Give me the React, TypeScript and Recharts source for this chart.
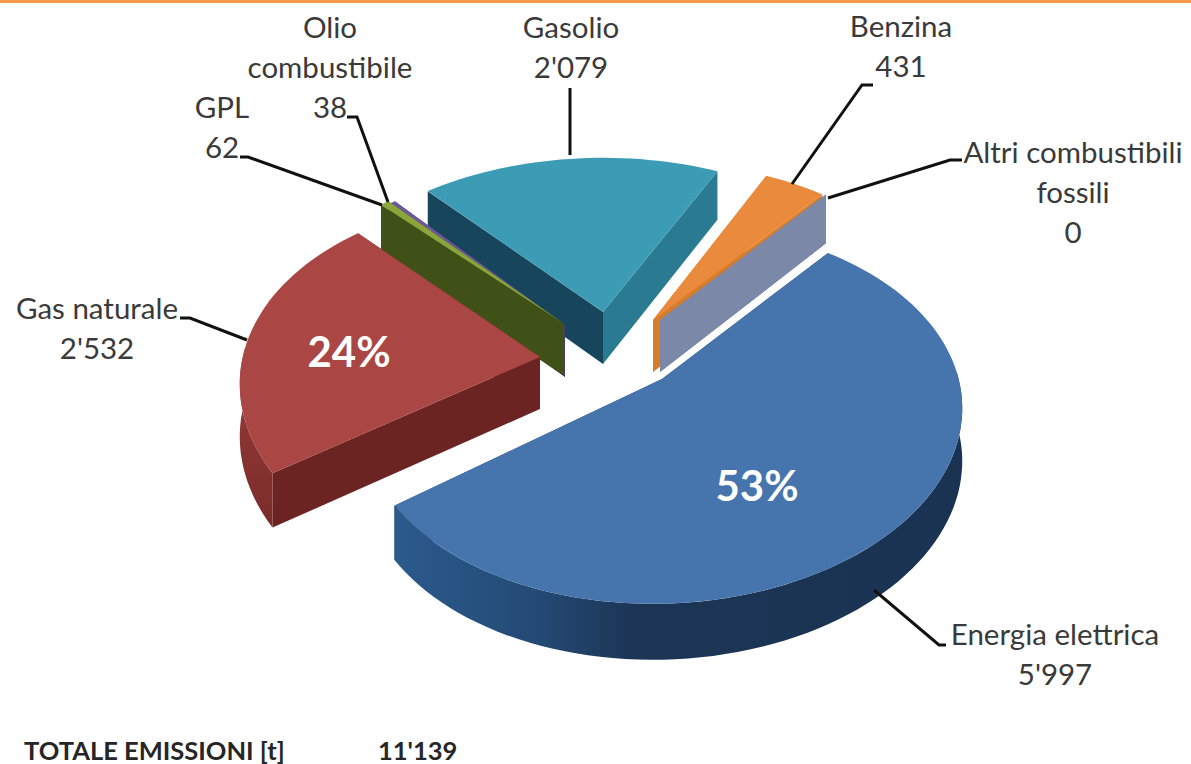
import { Pie, PieChart } from "recharts";

// tonnes of CO2 per energy source, counter-clockwise starting from Benzina
const SOURCES = [
	"Benzina",
	"Gasolio",
	"Olio combustibile",
	"GPL",
	"Gas naturale",
	"Energia elettrica",
	"Altri combustibili fossili"
];
const EMISSIONS = [431, 2079, 38, 62, 2532, 5997, 0];
const SHARE_LABELS = ["", "", "", "", "24%", "53%", ""];
const TOTAL_LABEL = "TOTALE EMISSIONI [t]";
const TOTAL_VALUE = "11'139";

const chartData = SOURCES.map((name, i) => ({ name, value: EMISSIONS[i], share: SHARE_LABELS[i] }));

const WIDTH = 1191;
const HEIGHT = 764;
const CENTER_X = 611;
const CENTER_Y = 355;
const RADIUS = 295;

// 3D projection of the disc
const PERSPECTIVE = 0.186;
const DEPTH = 52;

const FONT = "Lato, Carlito, sans-serif";
const TEXT_COLOR = "#3a3a3a";

type SliceStyle = {
	dx: number;
	dy: number;
	tilt: number;
	skew: number;
	stretch: number;
	top: string;
	arc: string;
	faceLow: string;
	faceHigh: string;
};

// faceLow is the cut face on the smaller recharts angle, faceHigh on the larger one
const SLICE_STYLES: Record<string, SliceStyle> = {
	Benzina: { dx: 42, dy: -35, tilt: 0.635, skew: 0, stretch: 1.02, top: "#e98a3c", arc: "#c9732c", faceLow: "#d97c2a", faceHigh: "#d97c2a" },
	Gasolio: { dx: -8, dy: -43, tilt: 0.62, skew: 0, stretch: 1.03, top: "#3c9cb6", arc: "#2a7b91", faceLow: "#2a7b91", faceHigh: "#17465c" },
	"Olio combustibile": { dx: -46, dy: -30, tilt: 0.635, skew: 0, stretch: 1, top: "#6e56a0", arc: "#4a3a70", faceLow: "#4a3a70", faceHigh: "#4a3a70" },
	GPL: { dx: -48, dy: -32, tilt: 0.635, skew: 0, stretch: 1, top: "#8aa63a", arc: "#3f5117", faceLow: "#3f5117", faceHigh: "#3f5117" },
	"Gas naturale": { dx: -71, dy: 2, tilt: 0.635, skew: 0.03, stretch: 1, top: "#aa4644", arc: "url(#arcRed)", faceLow: "#6b2422", faceHigh: "#6b2422" },
	"Energia elettrica": { dx: 51, dy: 24, tilt: 0.62, skew: -0.02, stretch: 1, top: "#4674ad", arc: "url(#arcBlue)", faceLow: "#1f3d63", faceHigh: "#1f3d63" },
	"Altri combustibili fossili": { dx: 49, dy: -35, tilt: 0.635, skew: 0, stretch: 1, top: "#7b88a8", arc: "#7b88a8", faceLow: "#7b88a8", faceHigh: "#7b88a8" }
};

type LabelLayout = {
	lines: string[];
	x: number;
	y: number;
	leader: string;
};

const LABEL_LAYOUTS: Record<string, LabelLayout> = {
	Benzina: { lines: ["Benzina"], x: 901, y: 37, leader: "M873 85 L862 85 L792 184" },
	Gasolio: { lines: ["Gasolio"], x: 571, y: 38, leader: "M570 88 L570 155" },
	"Olio combustibile": { lines: ["Olio", "combustibile"], x: 330, y: 38, leader: "M347 117 L357 117 L388 202" },
	GPL: { lines: ["GPL"], x: 222, y: 118, leader: "M240 157 L248 157 L382 205" },
	"Gas naturale": { lines: ["Gas naturale"], x: 97, y: 319, leader: "M180 318 L190 318 L247 340" },
	"Energia elettrica": { lines: ["Energia elettrica"], x: 1055, y: 645, leader: "M874 590 L939 645 L946 645" },
	"Altri combustibili fossili": {
		lines: ["Altri combustibili", "fossili"],
		x: 1073,
		y: 163,
		leader: "M962 160 L950 160 L828 198"
	}
};

const SHARE_POSITIONS: Record<string, { x: number; y: number }> = {
	"Gas naturale": { x: 349, y: 367 },
	"Energia elettrica": { x: 757, y: 501 }
};

const LINE_HEIGHT = 40;

function formatTonnes(value: number) {
	return String(value).replace(/\B(?=(\d{3})+$)/g, "'");
}

// recharts angle in degrees (ccw from east) to a point on the tilted disc
function project(apexX: number, apexY: number, angle: number, radius: number, style: SliceStyle) {
	const rad = (angle * Math.PI) / 180;
	const u = Math.cos(rad);
	const v = -Math.sin(rad);
	const scale = 1 / (1 - PERSPECTIVE * v);
	const offsetX = radius * scale * u * style.stretch;
	return {
		x: apexX + offsetX,
		y: apexY + radius * scale * style.tilt * v + style.skew * offsetX,
		v
	};
}

function depthAt(v: number) {
	return DEPTH + 4 * v;
}

function arcPoints(apexX: number, apexY: number, from: number, to: number, radius: number, style: SliceStyle) {
	const steps = Math.max(1, Math.ceil(Math.abs(to - from) / 2));
	const points = [];
	for (let i = 0; i <= steps; i++) {
		points.push(project(apexX, apexY, from + ((to - from) * i) / steps, radius, style));
	}
	return points;
}

function toPath(points: { x: number; y: number }[]) {
	return points.map((p, i) => `${i === 0 ? "M" : "L"}${p.x.toFixed(1)} ${p.y.toFixed(1)}`).join(" ");
}

function Slice3D(props: any) {
	const { cx, cy, startAngle, endAngle, outerRadius, name } = props;
	const style = SLICE_STYLES[name];
	const apexX = cx + style.dx;
	const apexY = cy + style.dy;
	const low = Math.min(startAngle, endAngle);
	const high = Math.max(startAngle, endAngle);

	const face = (angle: number, fill: string) => {
		const tip = project(apexX, apexY, angle, outerRadius, style);
		const d = `M${apexX} ${apexY} L${tip.x} ${tip.y} L${tip.x} ${tip.y + depthAt(tip.v)} L${apexX} ${apexY + DEPTH} Z`;
		return <path d={d} fill={fill} />;
	};

	// the curved wall only shows on the near half of the disc (angles 180..360)
	const wallParts = [];
	for (const [a, b] of [
		[180, 360],
		[540, 720]
	]) {
		const from = Math.max(low, a);
		const to = Math.min(high, b);
		if (to > from) {
			const edge = arcPoints(apexX, apexY, from, to, outerRadius, style);
			const lower = edge.map((p) => ({ x: p.x, y: p.y + depthAt(p.v) })).reverse();
			wallParts.push(<path key={a} d={`${toPath(edge)} ${toPath(lower).replace("M", "L")} Z`} fill={style.arc} />);
		}
	}

	const rim = arcPoints(apexX, apexY, low, high, outerRadius, style);
	const topPath = `M${apexX} ${apexY} ${toPath(rim).replace("M", "L")} Z`;

	return (
		<g>
			{face(low, style.faceLow)}
			{face(high, style.faceHigh)}
			{wallParts}
			{high > low && <path d={topPath} fill={style.top} />}
		</g>
	);
}

function SliceLabel(props: any) {
	const { name, value, share } = props;
	const layout = LABEL_LAYOUTS[name];
	const sharePos = SHARE_POSITIONS[name];
	const rows = [...layout.lines, formatTonnes(value)];
	return (
		<g>
			<path d={layout.leader} fill="none" stroke="#111" strokeWidth={3} />
			{rows.map((row, i) => (
				<text
					key={row}
					x={layout.x}
					y={layout.y + i * LINE_HEIGHT}
					textAnchor="middle"
					fontFamily={FONT}
					fontSize={29.5}
					fill={TEXT_COLOR}
				>
					{row}
				</text>
			))}
			{share && sharePos && (
				<text
					x={sharePos.x}
					y={sharePos.y}
					textAnchor="middle"
					fontFamily={FONT}
					fontSize={42}
					fontWeight={700}
					fill="#fff"
				>
					{share}
				</text>
			)}
		</g>
	);
}

const totalTextStyle = {
	position: "absolute",
	top: 735,
	fontFamily: FONT,
	fontWeight: 700,
	fontSize: 25.5,
	lineHeight: "30px",
	color: "#262626",
	whiteSpace: "nowrap"
} as const;

export default function App() {
	return (
		<div style={{ position: "absolute", left: 0, top: 0, width: WIDTH, height: HEIGHT, background: "#fff", overflow: "hidden" }}>
			<div style={{ position: "absolute", left: 0, top: 0, width: WIDTH, height: 3, background: "#f89a4c" }} />
			<PieChart width={WIDTH} height={HEIGHT} margin={{ top: 0, right: 0, bottom: 0, left: 0 }}>
				<defs>
					<linearGradient id="arcBlue" x1="0" y1="0" x2="1" y2="0">
						<stop offset="0" stopColor="#2b5a8c" />
						<stop offset="0.25" stopColor="#244a75" />
						<stop offset="0.42" stopColor="#1c3556" />
						<stop offset="1" stopColor="#1b3352" />
					</linearGradient>
					<linearGradient id="arcRed" x1="0" y1="0" x2="0" y2="1">
						<stop offset="0" stopColor="#9a3d3b" />
						<stop offset="1" stopColor="#7a2c2a" />
					</linearGradient>
				</defs>
				<Pie
					data={chartData}
					dataKey="value"
					nameKey="name"
					cx={CENTER_X}
					cy={CENTER_Y}
					innerRadius={0}
					outerRadius={RADIUS}
					startAngle={50}
					endAngle={410}
					stroke="none"
					shape={Slice3D}
					label={SliceLabel}
					labelLine={false}
					isAnimationActive={false}
				/>
			</PieChart>
			<div style={{ ...totalTextStyle, left: 24 }}>{TOTAL_LABEL}</div>
			<div style={{ ...totalTextStyle, left: 378 }}>{TOTAL_VALUE}</div>
		</div>
	);
}
